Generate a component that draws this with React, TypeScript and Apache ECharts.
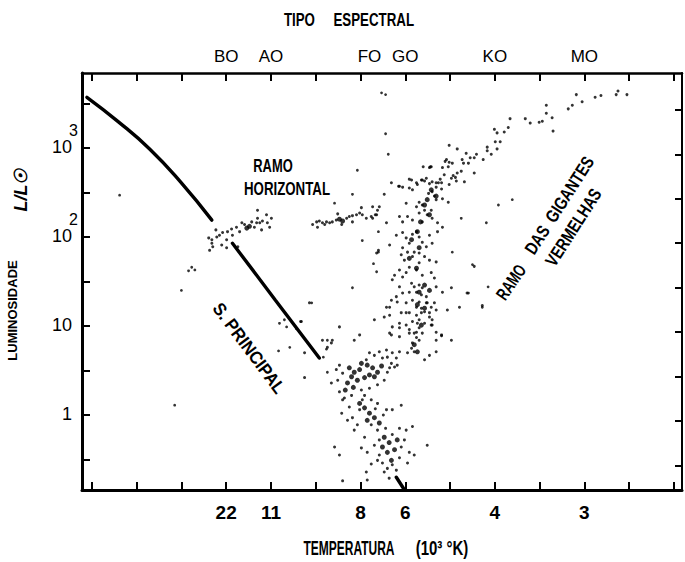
import React, { useEffect, useRef } from "react";
import * as echarts from "echarts";

// x: position on the colour / spectral scale (one unit per tick), y: log10(L / L_sun)
const xTicks = [0, 1, 2, 3, 4, 5, 6, 7, 8, 9, 10, 11, 12, 13];
const tempLabelPos = [3, 4, 6, 7, 9, 11];
const tempLabels = ["22", "11", "8", "6", "4", "3"];
const specLabelPos = [3, 4, 6.2, 7, 9, 11];
const specLabels = ["BO", "AO", "FO", "GO", "KO", "MO"];
const lumTicks = [-0.5, 0, 0.5, 1, 1.5, 2, 2.5, 3, 3.5];
const lumLabelPos = [0, 1, 2, 3];
const lumBase = ["1", "10", "10", "10"];
const lumExp = [" ", " ", "2", "3"];
const rightTicks = [3.43, 2.92, 2.43, 1.93, 1.43, 0.93, 0.43, -0.07, -0.57];

const upperGiants = [
  [10.82, 3.6], [10.95, 3.52], [11.24, 3.57], [11.37, 3.59], [11.71, 3.6], [11.75, 3.64], [11.95, 3.6],
  [10.73, 3.48], [10.64, 3.44], [10.15, 3.48], [10.15, 3.39], [10.28, 3.34], [10.3, 3.19], [9.99, 3.29],
  [10.06, 3.3], [9.68, 3.33], [9.79, 3.28], [9.34, 3.33], [8.99, 3.21], [9.05, 3.17], [9.21, 3.18],
  [9.3, 3.23], [9.01, 3.07], [9.12, 3.07], [8.83, 3.01], [8.83, 2.97], [9.05, 2.99], [8.92, 2.93],
  [8.74, 2.87], [8.59, 2.93], [8.54, 2.89], [8.45, 2.89], [8.36, 2.94], [8.16, 2.99], [8.27, 2.87],
  [8.41, 2.83], [7.98, 3.03], [7.92, 2.87], [7.98, 2.84], [8.05, 2.83], [8.25, 2.74], [8.12, 2.67],
  [8.03, 2.66], [7.87, 2.7], [7.78, 2.65], [7.58, 2.79], [7.4, 2.79], [8.54, 2.72], [8.32, 2.62],
  [7.36, 2.64], [7.47, 2.66], [7.6, 2.62], [7.69, 2.61], [6.69, 2.61], [6.85, 2.57], [6.94, 2.56],
  [7.14, 2.64], [7.25, 2.61], [7.38, 2.64], [7.54, 2.78], [7.83, 2.78], [8.07, 2.69], [7.81, 2.61],
  [7.98, 2.59], [6.53, 2.48],
];

const giantBranch = [
  [7.56, 2.79], [7.89, 2.85], [8.3, 2.83], [7.96, 2.79], [8.16, 2.72], [8.14, 2.63], [7.09, 2.65],
  [7.43, 2.63], [7.74, 2.61], [6.87, 2.57], [7.09, 2.55], [7.16, 2.53], [7.27, 2.59], [7.54, 2.6],
  [7.69, 2.56], [7.81, 2.54], [7.52, 2.49], [7.6, 2.51], [7.65, 2.46], [7.83, 2.43], [7.96, 2.39],
  [7.69, 2.42], [7.02, 2.38], [7.31, 2.39], [7.38, 2.36], [7.25, 2.34], [7.43, 2.3], [7.58, 2.3],
  [7.49, 2.25], [7.6, 2.21], [7.31, 2.27], [7.38, 2.17], [7.16, 2.19], [7.05, 2.23], [6.94, 2.17],
  [6.87, 2.23], [7.72, 2.16], [7.83, 2.11], [6.27, 2.34], [6.42, 2.34], [6.36, 2.25], [6.27, 2.21],
  [7.25, 2.06], [7.16, 2.03], [7.31, 2.0], [7.38, 1.94], [7.09, 1.93], [6.94, 2.05], [6.8, 2.02],
  [7.02, 1.99], [7.54, 2.02], [7.72, 2.06], [7.6, 1.93], [7.47, 1.89], [6.94, 1.88], [7.05, 1.83],
  [7.2, 1.83], [7.31, 1.82], [7.43, 1.78], [7.16, 1.78], [6.91, 1.8], [6.98, 1.74], [6.65, 1.91],
  [6.4, 1.85], [6.36, 1.82], [7.54, 1.74], [7.69, 1.72], [7.31, 1.71], [7.09, 1.66], [7.25, 1.63],
  [7.02, 1.6], [6.87, 1.63], [6.94, 1.55], [7.38, 1.57], [7.58, 1.6], [7.65, 1.54], [6.76, 1.57],
  [6.71, 1.52], [8.54, 1.67],
  [7.14, 1.48], [7.2, 1.44], [7.31, 1.46], [7.38, 1.43], [7.25, 1.38], [7.36, 1.35], [7.47, 1.33],
  [7.09, 1.38], [6.94, 1.37], [6.87, 1.44], [6.8, 1.33], [7.69, 1.44], [7.83, 1.38], [8.03, 1.43],
  [8.38, 1.37], [7.16, 1.29], [7.31, 1.27], [7.49, 1.26], [7.02, 1.26], [6.69, 1.29], [6.58, 1.21],
  [7.25, 1.21], [7.36, 1.2], [7.43, 1.16], [7.58, 1.21], [7.69, 1.18], [7.09, 1.15], [7.25, 1.12],
  [6.91, 1.15], [6.65, 1.12], [6.53, 1.1], [7.94, 1.18], [8.21, 1.21], [7.31, 1.07], [7.43, 1.03],
  [7.54, 1.1], [7.16, 1.05], [7.02, 1.01], [6.31, 1.07], [7.6, 1.01], [7.31, 0.98], [7.38, 0.92],
  [7.25, 0.93], [7.09, 0.92], [6.87, 0.98], [6.71, 0.99], [7.69, 0.93], [6.69, 0.9], [7.81, 0.89],
  [7.25, 0.87],
];

const subgiants = [
  [7.47, 1.26], [7.65, 1.26], [7.36, 1.15], [7.54, 1.15], [7.6, 1.07], [7.27, 1.03], [7.58, 1.01],
  [7.09, 0.96], [7.2, 0.92], [7.31, 0.84], [7.16, 0.81], [7.14, 0.75], [7.2, 0.71], [7.05, 0.7],
  [6.87, 1.03], [6.65, 0.92], [6.87, 0.88], [7.02, 1.15], [7.69, 0.84], [7.81, 0.9], [7.69, 0.71],
  [7.54, 0.67], [7.43, 0.62], [8.03, 0.84], [8.72, 1.23], [6.82, 1.27], [6.65, 1.21], [5.98, 0.9],
  [5.86, 0.84], [5.53, 0.99], [5.37, 0.84], [5.26, 0.76], [4.86, 1.26], [4.68, 1.05], [4.75, 0.7],
  [4.75, 0.42], [6.42, 0.71], [6.58, 0.73], [6.71, 0.7], [6.87, 0.71], [6.6, 0.65], [6.49, 0.64],
  [6.31, 0.67], [6.8, 0.64], [6.2, 0.7], [6.13, 0.62], [6.82, 0.56], [6.76, 0.54], [6.69, 0.58],
  [6.65, 0.53],
];

const mainSequence = [
  [5.53, 0.56], [5.6, 0.47], [5.49, 0.39], [5.64, 0.19], [5.8, 0.22], [6.02, 0.28], [6.2, 0.3],
  [6.38, 0.34], [6.53, 0.39], [6.6, 0.48], [6.09, 0.22], [5.35, 0.81], [5.15, 0.84], [5.46, 0.51],
  [5.35, 0.36], [5.53, 0.26], [5.6, 0.17], [5.75, 0.09], [5.58, 0.02], [5.82, -0.03], [5.98, 0.06],
  [6.04, 0.17], [6.38, 0.13], [6.58, 0.06], [6.71, 0.06], [6.91, 0.11], [7.16, -0.13], [7.02, -0.17],
  [6.87, -0.15], [6.98, -0.28], [7.2, -0.45], [7.09, -0.42], [6.91, -0.36], [7.49, -0.34],
  [6.09, -0.25], [6.02, -0.37], [6.15, -0.42], [6.38, -0.51], [6.49, -0.54], [6.6, -0.6],
  [6.71, -0.56], [6.13, -0.64], [5.53, -0.45], [6.15, -0.73], [5.42, -0.36], [5.6, -0.74],
  [6.24, 0.17], [6.33, 0.07], [6.51, 0.0], [6.24, -0.11], [6.38, -0.17], [6.56, -0.15], [6.42, -0.28],
  [6.31, -0.34], [6.71, -0.22], [6.87, -0.48], [6.8, -0.62], [6.53, -0.64], [6.64, -0.71],
  [6.42, -0.45], [6.24, -0.55], [7.05, -0.54], [5.86, -0.17], [5.93, -0.11], [5.71, -0.06],
];

const horizontalBranch = [
  [2.68, 1.97], [2.68, 1.93], [2.7, 1.89], [2.79, 2.0], [2.85, 2.02], [2.92, 2.05], [3.01, 1.97],
  [3.03, 2.06], [3.12, 2.09], [3.14, 2.02], [3.23, 2.11], [3.3, 2.06], [3.35, 2.16], [3.41, 2.14],
  [3.57, 2.17], [3.63, 2.11], [3.68, 2.16], [3.7, 2.21], [3.75, 2.16], [3.79, 2.08], [3.81, 2.18],
  [3.9, 2.25], [3.92, 2.16], [3.97, 2.11], [4.01, 2.21], [3.7, 2.3], [3.26, 1.89], [3.01, 1.88],
  [2.9, 1.91], [2.63, 1.85], [2.61, 1.99], [2.77, 2.08],
  [4.93, 2.14], [5.02, 2.17], [5.08, 2.18], [5.15, 2.16], [5.24, 2.17], [5.31, 2.16], [5.37, 2.17],
  [5.46, 2.19], [5.69, 2.21], [5.75, 2.23], [5.82, 2.24], [5.91, 2.25], [5.98, 2.27], [6.04, 2.25],
  [6.13, 2.21], [6.24, 2.23], [6.33, 2.25], [6.38, 2.3], [6.02, 2.33], [5.49, 2.26], [5.82, 2.17],
  [6.58, 2.16], [5.58, 2.14], [5.2, 2.14], [5.04, 2.11],
];

const fieldStars = [
  [0.62, 2.47], [2.23, 1.66], [2.3, 1.63], [2.16, 1.62], [2.0, 1.4], [1.85, 0.11], [4.19, 1.03],
  [4.3, 1.07], [4.35, 0.99], [4.66, 1.05], [4.57, 0.97], [5.26, 0.84], [5.24, 0.74], [4.42, 0.76],
  [4.17, 0.72], [5.17, 0.65], [5.26, 0.48], [6.4, 2.06], [6.04, 1.96], [6.4, 1.83], [6.29, 1.7],
  [6.36, 1.61], [5.82, 1.43], [4.91, 1.26], [6.47, 3.62], [6.56, 3.6], [6.56, 3.16], [6.62, 2.93],
  [5.93, 2.75], [5.82, 2.48], [5.42, 2.38], [8.25, 2.21], [8.81, 2.16], [9.39, 2.42], [9.08, 2.36],
  [8.05, 1.83], [8.5, 1.69], [8.41, 1.37], [8.85, 1.44], [8.72, 1.21],
];

const clumps = [
  [7.43, 2.36], [7.54, 2.25], [7.34, 2.17], [7.49, 2.42], [7.27, 2.06], [7.14, 1.97], [7.31, 1.88],
  [7.09, 1.76], [7.25, 1.65], [7.43, 1.46], [7.54, 1.4], [7.31, 1.38], [7.27, 1.24], [7.43, 1.2],
  [7.36, 1.01], [7.58, 2.53], [7.69, 2.46], [7.2, 0.79], [7.27, 0.71],
  [3.46, 2.1], [3.52, 2.12], [5.53, 2.2], [5.6, 2.18],
  [5.75, 0.53], [5.86, 0.48], [5.98, 0.51], [5.8, 0.43], [5.93, 0.39], [5.71, 0.36], [5.84, 0.31],
  [5.66, 0.28], [6.15, 0.56], [6.27, 0.53], [6.38, 0.48], [6.2, 0.45], [6.31, 0.43], [6.09, 0.42],
  [6.47, 0.55], [6.02, 0.58],
  [5.98, 0.13], [6.09, 0.08], [6.2, 0.02], [6.31, -0.03], [6.42, -0.09], [6.15, -0.06], [6.53, -0.25],
  [6.64, -0.31], [6.49, -0.36], [6.6, -0.42], [6.76, -0.39], [6.69, -0.51], [6.82, -0.28],
];

const msUpperLine = [[-0.11, 3.57], [0.58, 3.3], [1.29, 2.99], [1.98, 2.62], [2.68, 2.19]];
const msLowerLine = [[3.14, 1.93], [4.1, 1.29], [5.08, 0.64]];
const msBottomLine = [[6.8, -0.7], [6.98, -0.84]];

const SANS = "'Liberation Sans', Arial, sans-serif";

const pick = (pos: number[], labels: string[], v: number) => {
  const i = pos.findIndex((p) => Math.abs(p - v) < 1e-6);
  return i >= 0 ? labels[i] : "";
};

// Condensed hand lettering: bold sans squeezed horizontally, optionally rotated
const txt = (
  text: string,
  x: number,
  y: number,
  size: number,
  sx: number,
  rotation = 0,
  extra: any = {}
) => ({
  type: "group",
  x,
  y,
  rotation,
  children: [
    {
      type: "text",
      x: 0,
      y: 0,
      scaleX: sx,
      style: {
        text,
        fill: "#000",
        fontFamily: SANS,
        fontWeight: "bold",
        fontSize: size,
        align: "center",
        verticalAlign: "middle",
        textAlign: "center",
        textVerticalAlign: "middle",
        ...extra,
      },
    },
  ],
});

export default function App() {
  const ref = useRef<HTMLDivElement>(null);
  useEffect(() => {
    if (!ref.current) return;
    const chart = echarts.init(ref.current, null, { renderer: "svg" });
    const axisCommon = {
      type: "value",
      min: -0.22,
      max: 13.18,
      splitLine: { show: false },
    };
    const yCommon = {
      type: "value",
      min: -0.843,
      max: 3.843,
      splitLine: { show: false },
    };
    const dot = (name: string, data: number[][], size: number) => ({
      name,
      type: "scatter",
      data,
      symbol: "circle",
      symbolSize: size,
      itemStyle: { color: "#000" },
      silent: true,
    });
    const line = (name: string, data: number[][], smooth: boolean) => ({
      name,
      type: "line",
      data,
      smooth,
      showSymbol: false,
      symbol: "none",
      lineStyle: { color: "#000", width: 3.4, cap: "round" },
      silent: true,
    });
    chart.setOption({
      animation: false,
      backgroundColor: "#fff",
      grid: { left: 82, right: 3, top: 73, bottom: 72, outerBoundsMode: "none", containLabel: false },
      xAxis: [
        {
          ...axisCommon,
          position: "bottom",
          axisLine: { show: true, onZero: false, lineStyle: { color: "#000", width: 3 } },
          axisTick: { show: true, inside: true, length: 8, customValues: xTicks, lineStyle: { color: "#000", width: 2 } },
          axisLabel: {
            customValues: tempLabelPos,
            formatter: (v: number) => pick(tempLabelPos, tempLabels, v),
            color: "#000",
            fontFamily: SANS,
            fontWeight: "bold",
            fontSize: 19,
            margin: 13,
          },
        },
        {
          ...axisCommon,
          position: "top",
          axisLine: { show: true, onZero: false, lineStyle: { color: "#000", width: 2.5 } },
          axisTick: { show: true, inside: true, length: 8, customValues: xTicks, lineStyle: { color: "#000", width: 2 } },
          axisLabel: {
            customValues: specLabelPos,
            formatter: (v: number) => pick(specLabelPos, specLabels, v),
            color: "#000",
            fontFamily: SANS,
            fontSize: 17,
            margin: 8,
          },
        },
      ],
      yAxis: [
        {
          ...yCommon,
          position: "left",
          axisLine: { show: true, onZero: false, lineStyle: { color: "#000", width: 3 } },
          axisTick: { show: true, inside: true, length: 8, customValues: lumTicks, lineStyle: { color: "#000", width: 2 } },
          axisLabel: {
            customValues: lumLabelPos,
            formatter: (v: number) =>
              "{s|" + pick(lumLabelPos, lumExp, v) + "}\n{b|" + pick(lumLabelPos, lumBase, v) + "}",
            margin: 4,
            padding: [0, 0, 18, 0],
            rich: {
              s: { fontSize: 16, lineHeight: 16, fontFamily: SANS, color: "#000", align: "right" },
              b: { fontSize: 18, lineHeight: 18, fontFamily: SANS, color: "#000", align: "right", padding: [0, 6, 0, 0] },
            },
          },
          name: "LUMINOSIDADE",
          nameLocation: "middle",
          nameRotate: 90,
          nameGap: 63,
          nameTextStyle: {
            fontSize: 13,
            fontWeight: "bold",
            fontFamily: SANS,
            color: "#000",
            padding: [0, 58, 0, 0],
          },
        },
        {
          ...yCommon,
          position: "right",
          axisLine: { show: true, onZero: false, lineStyle: { color: "#000", width: 2 } },
          axisTick: { show: true, inside: true, length: 7, customValues: rightTicks, lineStyle: { color: "#000", width: 2 } },
          axisLabel: { show: false },
        },
      ],
      series: [
        dot("upperGiants", upperGiants, 3),
        dot("giantBranch", giantBranch, 3),
        dot("subgiants", subgiants, 3),
        dot("mainSequence", mainSequence, 3),
        dot("horizontalBranch", horizontalBranch, 3),
        dot("fieldStars", fieldStars, 2.8),
        dot("clumps", clumps, 5),
        line("msUpper", msUpperLine, true),
        line("msLower", msLowerLine, false),
        line("msBottom", msBottomLine, false),
      ],
      graphic: [
        txt("TIPO     ESPECTRAL", 349, 20, 18, 0.74),
        txt("RAMO", 273, 165, 19, 0.68),
        txt("HORIZONTAL", 287, 188, 19, 0.7),
        txt("S. PRINCIPAL", 249, 348, 18, 0.92, -0.93),
        txt("RAMO", 511, 282, 18, 0.7, 0.96),
        txt("DAS  GIGANTES", 559, 205, 18, 0.79, 1.0),
        txt("VERMELHAS", 573, 227, 18, 0.78, 1.0),
        txt("TEMPERATURA", 349, 548, 20, 0.6),
        txt("(10³ °K)", 442, 548, 20, 0.75),
        txt("L/L☉", 21, 190, 18, 1, Math.PI / 2, { fontStyle: "italic" }),
      ],
    });
    return () => chart.dispose();
  }, []);
  return <div ref={ref} style={{ width: 685, height: 562, position: "absolute", left: 0, top: 0 }} />;
}
